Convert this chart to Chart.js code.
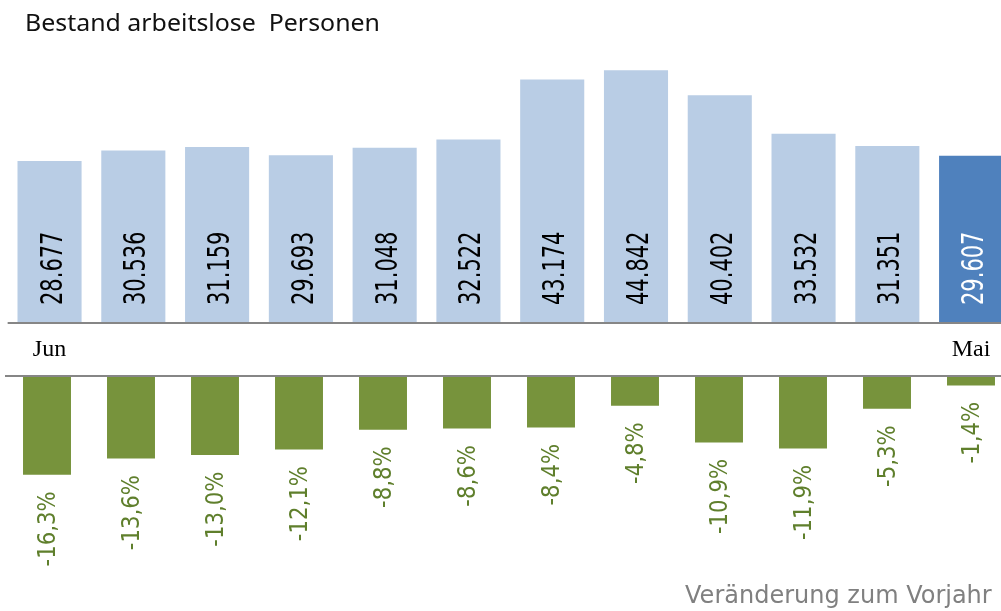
<!DOCTYPE html>
<html>
<head>
<meta charset="utf-8">
<script src="https://cdn.jsdelivr.net/npm/chart.js@4/dist/chart.umd.min.js"></script>
<style>
  html, body { margin: 0; padding: 0; background: #fff; overflow: hidden; width: 1001px; height: 611px; }
  canvas { position: absolute; left: 0; }
  #top { top: 0; }
  #bottom { top: 370px; }
</style>
</head>
<body>
<canvas id="top" width="1013" height="370"></canvas>
<canvas id="bottom" width="1013" height="241"></canvas>
<script>
// ---- data ----
const months = ['Jun','Jul','Aug','Sep','Okt','Nov','Dez','Jan','Feb','Mär','Apr','Mai'];
const bestand = [28677, 30536, 31159, 29693, 31048, 32522, 43174, 44842, 40402, 33532, 31351, 29607];
const veraenderung = [-16.3, -13.6, -13.0, -12.1, -8.8, -8.6, -8.4, -4.8, -10.9, -11.9, -5.3, -1.4];
const titleText = 'Bestand arbeitslose  Personen';
const subText = 'Veränderung zum Vorjahr';
const shownMonthLabels = [0, months.length - 1];

// ---- helpers ----
function fmtThousands(v) {
  const s = String(Math.round(v));
  return s.replace(/\B(?=(\d{3})+(?!\d))/g, '.');
}
function fmtPct(v) {
  return v.toFixed(1).replace('.', ',') + '%';
}
function rotatedText(ctx, text, x, y, align, font, sx, color) {
  ctx.save();
  ctx.translate(x, y);
  ctx.rotate(-Math.PI / 2);
  ctx.scale(sx, 1);
  ctx.font = font;
  ctx.fillStyle = color;
  ctx.textAlign = align;
  ctx.textBaseline = 'alphabetic';
  ctx.fillText(text, 0, 0);
  ctx.restore();
}

const LIGHT = '#B9CDE5', DARK = '#4F81BD', GREEN = '#77933C', AXIS = '#868686';

// ---- upper chart ----
const topPlugin = {
  id: 'topDecor',
  afterDatasetsDraw(chart) {
    const ctx = chart.ctx;
    const xs = chart.scales.x, ys = chart.scales.y;
    const y0 = ys.getPixelForValue(0);
    // axis line
    ctx.save();
    ctx.strokeStyle = AXIS;
    ctx.lineWidth = 2;
    ctx.beginPath();
    ctx.moveTo(chart.chartArea.left, y0 + 1);
    ctx.lineTo(chart.width, y0 + 1);
    ctx.stroke();
    ctx.restore();
    // value labels
    bestand.forEach((v, i) => {
      const cx = xs.getPixelForValue(i);
      const col = i === bestand.length - 1 ? '#ffffff' : '#000000';
      rotatedText(ctx, fmtThousands(v), cx + 12, y0 - 17, 'left', '30px "DejaVu Sans"', 0.70, col);
    });
    // month labels
    ctx.save();
    ctx.font = '24px "Liberation Serif"';
    ctx.fillStyle = '#000';
    ctx.textAlign = 'center';
    ctx.textBaseline = 'alphabetic';
    shownMonthLabels.forEach(i => {
      ctx.fillText(months[i], xs.getPixelForValue(i), 356);
    });
    ctx.restore();
    // title
    ctx.save();
    ctx.font = '23px "Noto Sans"';
    ctx.fillStyle = '#111';
    ctx.textAlign = 'left';
    ctx.textBaseline = 'alphabetic';
    const w = ctx.measureText(titleText).width;
    ctx.translate(25, 31);
    ctx.scale(355 / w, 1);
    ctx.fillText(titleText, 0, 0);
    ctx.restore();
  }
};

new Chart(document.getElementById('top'), {
  type: 'bar',
  data: {
    labels: months,
    datasets: [{
      data: bestand,
      backgroundColor: c => c.dataIndex === bestand.length - 1 ? DARK : LIGHT,
      borderWidth: 0,
      categoryPercentage: 1,
      barPercentage: 0.765
    }]
  },
  options: {
    responsive: false,
    devicePixelRatio: 1,
    animation: false,
    layout: { padding: { left: 7.65, right: 0, top: 0, bottom: 48 } },
    plugins: { legend: { display: false }, tooltip: { enabled: false }, title: { display: false } },
    scales: {
      x: { type: 'category', offset: true, display: false },
      y: { display: false, min: 0, max: 57354 }
    }
  },
  plugins: [topPlugin]
});

// ---- lower chart ----
const bottomPlugin = {
  id: 'bottomDecor',
  afterDatasetsDraw(chart) {
    const ctx = chart.ctx;
    const xs = chart.scales.x, ys = chart.scales.y;
    const y0 = ys.getPixelForValue(0);
    ctx.save();
    ctx.strokeStyle = AXIS;
    ctx.lineWidth = 2;
    ctx.beginPath();
    ctx.moveTo(chart.chartArea.left, y0 - 1);
    ctx.lineTo(1001, y0 - 1);
    ctx.stroke();
    ctx.restore();
    veraenderung.forEach((v, i) => {
      const cx = xs.getPixelForValue(i);
      const yb = ys.getPixelForValue(v);
      rotatedText(ctx, fmtPct(v), cx + 8, yb + 16.5, 'right', '25px "DejaVu Sans"', 0.85, '#5F7F2C');
    });
    ctx.save();
    ctx.font = '24px "DejaVu Sans"';
    ctx.fillStyle = '#808080';
    ctx.textAlign = 'right';
    ctx.textBaseline = 'alphabetic';
    ctx.fillText(subText, 991.7, 233);
    ctx.restore();
  }
};

new Chart(document.getElementById('bottom'), {
  type: 'bar',
  data: {
    labels: months,
    datasets: [{
      data: veraenderung,
      backgroundColor: GREEN,
      borderWidth: 0,
      categoryPercentage: 1,
      barPercentage: 0.571
    }]
  },
  options: {
    responsive: false,
    devicePixelRatio: 1,
    animation: false,
    layout: { padding: { left: 5, right: 0, top: 7, bottom: 0 } },
    plugins: { legend: { display: false }, tooltip: { enabled: false }, title: { display: false } },
    scales: {
      x: { type: 'category', offset: true, display: false },
      y: { display: false, min: -39, max: 0 }
    }
  },
  plugins: [bottomPlugin]
});
</script>
</body>
</html>
